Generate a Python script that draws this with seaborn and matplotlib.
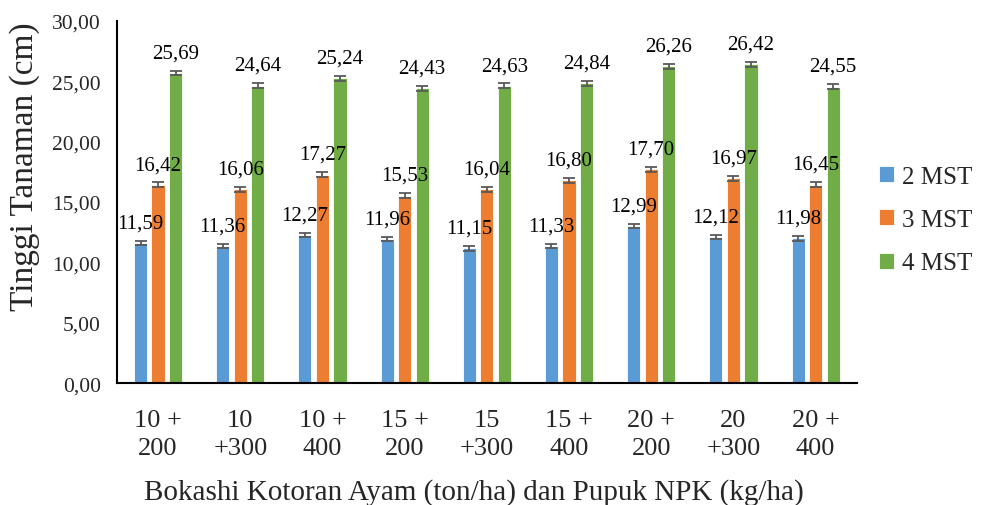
import pandas as pd
import matplotlib.pyplot as plt
import seaborn as sns
import numpy as np

# Data
categories = ["10 +\n200", "10\n+300", "10 +\n400", "15 +\n200", "15\n+300",
              "15 +\n400", "20 +\n200", "20\n+300", "20 +\n400"]
series = ["2 MST", "3 MST", "4 MST"]
mst2 = [11.59, 11.36, 12.27, 11.96, 11.15, 11.33, 12.99, 12.12, 11.98]
mst3 = [16.42, 16.06, 17.27, 15.53, 16.04, 16.80, 17.70, 16.97, 16.45]
mst4 = [25.69, 24.64, 25.24, 24.43, 24.63, 24.84, 26.26, 26.42, 24.55]
err2 = [0.18] * 9
err3 = [0.2] * 9
err4 = [0.2] * 9

colors = ['#5B9BD5', '#ED7D31', '#70AD47']

df = pd.DataFrame({
    'cat': categories * 3,
    'series': [s for s in series for _ in categories],
    'value': mst2 + mst3 + mst4,
    'err': err2 + err3 + err4,
})

sns.set_style('white')
plt.rcParams['font.family'] = ['Liberation Serif', 'DejaVu Serif']

fig = plt.figure(figsize=(9.87, 5.06), dpi=100)
ax = fig.add_axes([0.1185, 0.241, 0.7495, 0.7155])

sns.barplot(data=df, x='cat', y='value', hue='series', palette=colors,
            width=0.64, gap=0.25, errorbar=None, saturation=1, ax=ax,
            edgecolor='white', linewidth=0.6)

# error bars and data labels on top of each bar
for container, s in zip(ax.containers, series):
    sub = df[df['series'] == s]
    for bar, v, e in zip(container, sub['value'], sub['err']):
        xc = bar.get_x() + bar.get_width() / 2
        ax.errorbar(xc, v, yerr=e, color='#595959', capsize=4,
                    elinewidth=1.3, capthick=1.3, zorder=3)
        ax.annotate(f"{v:.2f}".replace('.', ','), (xc, v + e),
                    xytext=(0, 6), textcoords='offset points',
                    ha='center', va='bottom', fontsize=15, color='black')

ax.set_ylim(0, 30)
ax.set_yticks(np.arange(0, 31, 5))
ax.set_yticklabels([f"{t:.2f}".replace('.', ',') for t in np.arange(0, 31, 5)],
                   fontsize=15.5)
ax.tick_params(axis='x', labelsize=19, pad=15)
ax.tick_params(axis='y', pad=8)
for lab in ax.get_xticklabels():
    lab.set_linespacing(1.38)
ax.set_xlim(-0.5, 8.5)

for side in ['top', 'right']:
    ax.spines[side].set_visible(False)
for side in ['left', 'bottom']:
    ax.spines[side].set_color('black')
    ax.spines[side].set_linewidth(1.5)

ax.set_xlabel('Bokashi Kotoran Ayam (ton/ha) dan Pupuk NPK (kg/ha)',
              fontsize=21)
ax.xaxis.set_label_coords(0.483, -0.262)
ax.set_ylabel('Tinggi Tanaman (cm)', fontsize=24)
ax.yaxis.set_label_coords(-0.104, 0.6)

ax.legend(loc='center left', bbox_to_anchor=(1.0, 0.45), frameon=False,
          fontsize=18, handlelength=0.6, handleheight=0.6,
          labelspacing=0.85, handletextpad=0.3, title=None)

plt.savefig('out.png', dpi=100)
